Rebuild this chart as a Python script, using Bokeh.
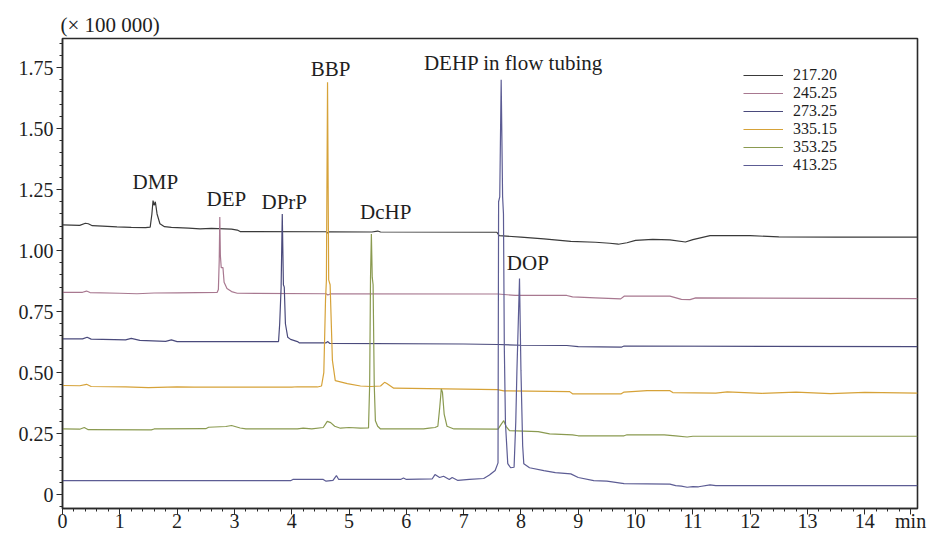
from bokeh.plotting import figure
from bokeh.models import Range1d, FixedTicker, Label, Legend, LegendItem
from bokeh.embed import file_html
from bokeh.resources import INLINE

# ---------------- data ----------------
series_names = ["217.20", "245.25", "273.25", "335.15", "353.25", "413.25"]
series_colors = ["#3a3a3a", "#a87890", "#4a4a7c", "#d6a238", "#8a9a50", "#5c5c94"]

t_217 = [0.00, 0.30, 0.40, 0.45, 0.52, 0.70, 0.95, 1.20, 1.45, 1.53, 1.56, 1.58, 1.60, 1.62, 1.65,
         1.70, 1.78, 1.90, 2.20, 2.40, 2.60, 2.95, 3.05, 3.10, 4.60, 4.62, 4.66, 5.40, 5.50, 5.55,
         7.58, 7.62, 8.00, 8.40, 8.87, 9.30, 9.55, 9.70, 9.85, 10.00, 10.30, 10.60, 10.87, 11.00,
         11.30, 12.00, 12.50, 13.50, 14.92]
y_217 = [1.105, 1.103, 1.112, 1.110, 1.102, 1.100, 1.097, 1.095, 1.094, 1.096, 1.150, 1.205, 1.185,
         1.200, 1.150, 1.110, 1.098, 1.095, 1.092, 1.089, 1.091, 1.088, 1.084, 1.078, 1.077, 1.072,
         1.077, 1.076, 1.080, 1.076, 1.075, 1.061, 1.055, 1.048, 1.038, 1.034, 1.030, 1.026, 1.032,
         1.042, 1.046, 1.044, 1.035, 1.045, 1.061, 1.061, 1.056, 1.055, 1.055]

t_245 = [0.00, 0.35, 0.42, 0.48, 1.00, 1.30, 1.60, 2.00, 2.70, 2.72, 2.735, 2.745, 2.755, 2.77,
         2.80, 2.82, 2.87, 2.95, 3.05, 4.60, 4.63, 4.68, 7.60, 7.90, 8.80, 8.90, 9.30, 9.74, 9.80,
         10.60, 10.80, 10.95, 11.05, 14.92]
y_245 = [0.829, 0.829, 0.834, 0.828, 0.825, 0.823, 0.826, 0.827, 0.829, 0.840, 0.960, 1.137, 0.980,
         0.930, 0.930, 0.870, 0.845, 0.832, 0.825, 0.823, 0.818, 0.823, 0.822, 0.816, 0.816, 0.810,
         0.806, 0.802, 0.813, 0.813, 0.800, 0.799, 0.806, 0.803]

t_273 = [0.00, 0.35, 0.43, 0.50, 1.10, 1.20, 1.35, 1.80, 1.90, 2.00, 3.77, 3.79, 3.815, 3.835,
         3.855, 3.87, 3.89, 3.93, 3.98, 4.10, 4.13, 4.60, 4.63, 4.66, 7.00, 7.60, 8.00, 8.80, 9.00,
         9.75, 9.80, 14.92]
y_273 = [0.638, 0.638, 0.645, 0.637, 0.634, 0.640, 0.632, 0.628, 0.634, 0.627, 0.627, 0.700, 0.850,
         1.150, 0.860, 0.850, 0.700, 0.645, 0.636, 0.627, 0.622, 0.622, 0.627, 0.620, 0.617, 0.615,
         0.612, 0.611, 0.606, 0.604, 0.609, 0.606]

t_335 = [0.00, 0.30, 0.42, 0.50, 1.10, 1.50, 2.00, 2.30, 4.00, 4.10, 4.45, 4.52, 4.56, 4.59, 4.605,
         4.625, 4.645, 4.67, 4.71, 4.76, 4.97, 5.20, 5.38, 5.55, 5.62, 5.66, 5.78, 7.59, 7.70, 8.85,
         8.90, 9.75, 9.80, 10.20, 10.60, 10.65, 11.40, 11.60, 12.20, 12.80, 13.40, 14.00, 14.92]
y_335 = [0.447, 0.446, 0.452, 0.443, 0.441, 0.438, 0.441, 0.440, 0.440, 0.442, 0.441, 0.445, 0.500,
         0.800, 0.877, 1.690, 0.880, 0.860, 0.550, 0.467, 0.455, 0.445, 0.443, 0.445, 0.460, 0.455,
         0.436, 0.430, 0.425, 0.422, 0.413, 0.413, 0.420, 0.426, 0.426, 0.418, 0.416, 0.421, 0.415,
         0.420, 0.414, 0.419, 0.416]

t_353 = [0.00, 0.30, 0.38, 0.45, 1.55, 1.60, 2.50, 2.55, 2.85, 2.95, 3.10, 3.20, 4.10, 4.20, 4.35,
         4.55, 4.62, 4.68, 4.75, 4.85, 5.00, 5.20, 5.34, 5.36, 5.375, 5.39, 5.405, 5.42, 5.44, 5.46,
         5.50, 5.55, 6.30, 6.40, 6.50, 6.55, 6.58, 6.61, 6.63, 6.66, 6.71, 6.83, 7.60, 7.66, 7.70,
         7.74, 7.80, 8.30, 8.50, 8.90, 9.00, 9.80, 9.85, 10.50, 10.70, 10.90, 11.00, 14.92]
y_353 = [0.269, 0.268, 0.275, 0.266, 0.265, 0.269, 0.270, 0.276, 0.279, 0.283, 0.273, 0.269, 0.269,
         0.272, 0.269, 0.275, 0.300, 0.295, 0.280, 0.272, 0.275, 0.272, 0.273, 0.450, 0.890, 1.068,
         0.890, 0.860, 0.450, 0.303, 0.280, 0.269, 0.269, 0.272, 0.275, 0.280, 0.350, 0.433, 0.420,
         0.330, 0.280, 0.269, 0.268, 0.290, 0.303, 0.280, 0.262, 0.258, 0.249, 0.245, 0.241, 0.241,
         0.245, 0.245, 0.241, 0.236, 0.239, 0.239]

t_413 = [0.00, 3.98, 4.02, 4.55, 4.60, 4.72, 4.78, 4.82, 5.90, 5.95, 6.00, 6.45, 6.50, 6.58, 6.65,
         6.75, 6.80, 6.90, 7.10, 7.35, 7.45, 7.55, 7.60, 7.61, 7.63, 7.655, 7.68, 7.695, 7.71, 7.73,
         7.77, 7.82, 7.88, 7.91, 7.93, 7.975, 8.00, 8.03, 8.05, 8.15, 8.40, 8.60, 8.87, 9.00, 9.27,
         9.50, 9.80, 10.60, 10.70, 10.80, 10.90, 11.00, 11.10, 11.30, 11.40, 14.92]
y_413 = [0.057, 0.057, 0.062, 0.062, 0.055, 0.058, 0.078, 0.062, 0.062, 0.068, 0.062, 0.064, 0.082,
         0.070, 0.075, 0.062, 0.070, 0.058, 0.062, 0.066, 0.080, 0.099, 0.130, 1.200, 1.220, 1.700,
         1.220, 1.150, 0.600, 0.290, 0.127, 0.110, 0.112, 0.300, 0.510, 0.885, 0.510, 0.200, 0.126,
         0.110, 0.098, 0.090, 0.085, 0.070, 0.057, 0.055, 0.045, 0.043, 0.037, 0.035, 0.030, 0.033,
         0.032, 0.040, 0.037, 0.037]

series_t = [t_217, t_245, t_273, t_335, t_353, t_413]
series_y = [y_217, y_245, y_273, y_335, y_353, y_413]

peak_names = ["DMP", "DEP", "DPrP", "BBP", "DcHP", "DEHP in flow tubing", "DOP"]
peak_label_t = [1.62, 2.86, 3.87, 4.68, 5.64, 7.87, 8.12]
peak_label_y = [1.28, 1.213, 1.20, 1.746, 1.156, 1.77, 0.95]

x_tick_values = list(range(0, 15))
x_unit_pos = 14.8
x_unit = "min"
y_tick_values = [0, 0.25, 0.5, 0.75, 1.0, 1.25, 1.5, 1.75]
y_tick_labels = ["0", "0.25", "0.50", "0.75", "1.00", "1.25", "1.50", "1.75"]
scale_note = "(× 100 000)"

# ---------------- figure ----------------
SERIF = "Liberation Serif"
INK = "#1e1e1e"

p = figure(width=931, height=534, output_backend="svg", toolbar_location=None,
           x_range=Range1d(0, 14.92), y_range=Range1d(-0.057, 1.869),
           min_border_left=62, min_border_right=14, min_border_top=38, min_border_bottom=26,
           title=scale_note)
p.title.align = "left"
p.title.text_font = SERIF
p.title.text_font_size = "21px"
p.title.text_font_style = "normal"
p.title.text_color = INK
p.title.offset = -2
p.title.standoff = 4
p.background_fill_color = "white"
p.border_fill_color = "white"
p.xgrid.visible = False
p.ygrid.visible = False
p.outline_line_color = "#2a2a2a"
p.outline_line_width = 1.6

renderers = []
for tt, yy, c in zip(series_t, series_y, series_colors):
    assert len(tt) == len(yy)
    r = p.line(tt, yy, line_color=c, line_width=1.2)
    renderers.append(r)

# axes
p.xaxis.ticker = FixedTicker(ticks=x_tick_values + [x_unit_pos],
                             minor_ticks=[round(i * 0.2, 2) for i in range(0, 75)])
p.xaxis.major_label_overrides = {x_unit_pos: x_unit}
p.yaxis.ticker = FixedTicker(ticks=y_tick_values,
                             minor_ticks=[round(-0.05 + i * 0.05, 2) for i in range(0, 39)])
p.yaxis.major_label_overrides = {v: s for v, s in zip(y_tick_values, y_tick_labels)}
for ax in (p.xaxis[0], p.yaxis[0]):
    ax.axis_line_color = "#2a2a2a"
    ax.axis_line_width = 1.4
    ax.major_tick_line_color = "#2a2a2a"
    ax.minor_tick_line_color = "#2a2a2a"
    ax.major_tick_out = 6
    ax.major_tick_in = 0
    ax.minor_tick_out = 3
    ax.minor_tick_in = 0
    ax.major_label_text_font = SERIF
    ax.major_label_text_font_size = "20px"
    ax.major_label_text_color = INK
p.xaxis.major_label_standoff = -5
p.yaxis.major_label_standoff = 3

# peak labels
for name, tx, ty in zip(peak_names, peak_label_t, peak_label_y):
    p.add_layout(Label(x=tx, y=ty, text=name, text_align="center", text_baseline="middle",
                       text_font=SERIF, text_font_size="21px", text_color=INK))

legend = Legend(items=[LegendItem(label=n, renderers=[r]) for n, r in zip(series_names, renderers)],
                location=(681, 334))
legend.padding = 0
legend.margin = 0
legend.spacing = 0
legend.border_line_alpha = 0
legend.background_fill_alpha = 0
legend.glyph_width = 40
legend.glyph_height = 18
legend.label_height = 18
legend.label_standoff = 10
legend.label_text_font = SERIF
legend.label_text_font_size = "16px"
legend.label_text_color = INK
p.add_layout(legend)

open("out.html", "w").write(file_html(p, INLINE))
